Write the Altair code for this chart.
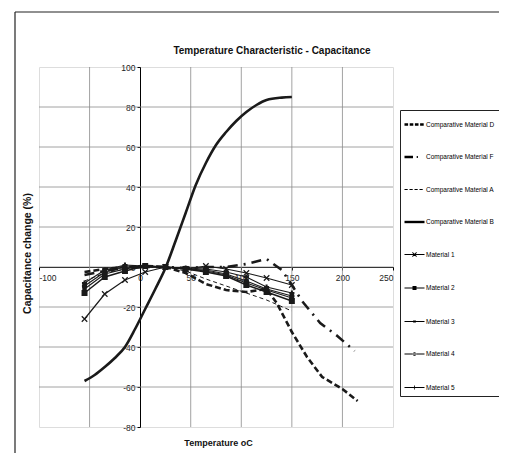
import altair as alt
import pandas as pd

# ---------------- data ----------------
T_MAT = [-55, -35, -15, 5, 25, 45, 65, 85, 105, 125, 150]
material_1 = [-26, -13.5, -6.5, -2.5, 0, -1, 0.5, -1, -3, -5.5, -9]
material_2 = [-13, -5, -2, 0.5, 0, -1, -2.5, -4.5, -9, -12.5, -17]
material_3 = [-11, -3.5, -1, 0.5, 0, -1, -2, -4, -8, -11.5, -15.5]
material_4 = [-9.5, -2.5, 0, 0.5, 0, -1, -1.5, -3.5, -7, -11, -14.5]
material_5 = [-8, -1.5, 1, 0.5, 0, -0.5, -1, -2.5, -5, -10, -13]

T_COMP_A = [-55, -35, -15, 5, 25, 45, 65, 85, 105, 125, 150]
comp_a = [-7, -3, -1, 0, 0, -2, -6, -9.5, -13, -16.5, -22]

T_COMP_B = [-55, -45, -35, -25, -15, -5, 5, 15, 25, 35, 45, 55, 65, 75, 85, 95, 105, 115, 125, 140, 150]
comp_b = [-57, -54, -50, -45.5, -40, -31, -21, -11, -0.5, 13, 27, 41, 52, 61, 67.5, 73, 77.5, 81, 83.5, 84.7, 85]

T_COMP_D = [-55, -35, -15, 5, 25, 45, 65, 85, 105, 125, 135, 150, 165, 180, 200, 215]
comp_d = [-2.5, -1, 0, 0.5, 0, -3, -8.5, -11.5, -12.5, -11, -18, -32.5, -45, -55, -61, -67]

T_COMP_F = [-55, -35, -15, 5, 25, 45, 65, 85, 105, 125, 140, 150, 160, 178, 195, 212]
comp_f = [-4, -2, -0.5, 0, 0, -0.5, 0, 0, 1.5, 4, -1.5, -9, -17, -28, -34.5, -42]

SERIES = ["Comparative Material D", "Comparative Material F", "Comparative Material A",
          "Comparative Material B", "Material 1", "Material 2", "Material 3",
          "Material 4", "Material 5"]

TITLE = "Temperature Characteristic - Capacitance"
X_LABELLED = [-100, 0, 50, 100, 150, 200, 250]
Y_TICKS = [-80, -60, -40, -20, 0, 20, 40, 60, 80, 100]
H_GRID = [-60, -40, -20, 0, 20, 40, 60, 80]
V_GRID = [-50, 50, 100, 150, 200]

# ---------------- tidy table ----------------
series_data = {
    "Comparative Material D": (T_COMP_D, comp_d),
    "Comparative Material F": (T_COMP_F, comp_f),
    "Comparative Material A": (T_COMP_A, comp_a),
    "Comparative Material B": (T_COMP_B, comp_b),
    "Material 1": (T_MAT, material_1),
    "Material 2": (T_MAT, material_2),
    "Material 3": (T_MAT, material_3),
    "Material 4": (T_MAT, material_4),
    "Material 5": (T_MAT, material_5),
}
rows = []
for name, (xs_, ys_) in series_data.items():
    for xv, yv in zip(xs_, ys_):
        rows.append({"series": name, "temp": xv, "cap": yv})
df = pd.DataFrame(rows)

FONT = "Liberation Sans, Arial, sans-serif"

W, H = 354, 360
xs = alt.Scale(domain=[-100, 250], nice=False, zero=False)
ys = alt.Scale(domain=[-80, 100], nice=False, zero=False)

x_axis = alt.Axis(values=X_LABELLED, orient="bottom", offset=-160, grid=False,
                  domainColor="black", domainWidth=1, tickColor="black", tickSize=3,
                  labelFont=FONT, labelFontSize=8.5, labelColor="#222", labelPadding=3,
                  labelOverlap=False, labelExpr="'' + datum.value",
                  title="Temperature oC", titleFont=FONT, titleFontSize=9,
                  titleFontWeight="bold", titleColor="#111", titleX=179, titleY=175,
                  titleBaseline="middle", titleAlign="center")
y_axis = alt.Axis(values=Y_TICKS, orient="left", offset=-101, grid=False,
                  domainColor="black", domainWidth=1, tickColor="black", tickSize=3,
                  labelFont=FONT, labelFontSize=8.5, labelColor="#222", labelPadding=2,
                  labelOverlap=False, labelExpr="'' + datum.value",
                  title="Capacitance change (%)", titleFont=FONT, titleFontSize=10.5,
                  titleFontWeight="bold", titleColor="#111", titleX=-113, titleY=186,
                  titleBaseline="middle", titleAlign="center", titleAngle=-90)

X_ENC = lambda f: alt.X(f, scale=xs, axis=x_axis)
Y_ENC = lambda f: alt.Y(f, scale=ys, axis=y_axis)

hgrid = alt.Chart(pd.DataFrame({"temp": [0] * len(H_GRID), "cap": H_GRID})).mark_rule(
    color="#8a8a8a", strokeWidth=0.8).encode(y=Y_ENC("cap:Q"))
vgrid = alt.Chart(pd.DataFrame({"temp": V_GRID, "cap": [0] * len(V_GRID)})).mark_rule(
    color="#8a8a8a", strokeWidth=0.8).encode(x=X_ENC("temp:Q"))

styles = {
    "Comparative Material D": dict(strokeWidth=2.6, strokeDash=[6, 3]),
    "Comparative Material F": dict(strokeWidth=2.6, strokeDash=[10, 6, 2, 6]),
    "Comparative Material A": dict(strokeWidth=1, strokeDash=[4, 3]),
    "Comparative Material B": dict(strokeWidth=2.6, interpolate="monotone"),
    "Material 1": dict(strokeWidth=1.2),
    "Material 2": dict(strokeWidth=1.4),
    "Material 3": dict(strokeWidth=1.2),
    "Material 4": dict(strokeWidth=1.2),
    "Material 5": dict(strokeWidth=1.2),
}
markers = {
    "Material 1": dict(shape="M-1,-1L1,1M-1,1L1,-1", size=30, filled=False, strokeWidth=1.2),
    "Material 2": dict(shape="square", size=36, filled=True),
    "Material 3": dict(shape="square", size=20, filled=True),
    "Material 4": dict(shape="circle", size=28, filled=True),
    "Material 5": dict(shape="cross", size=26, filled=True),
}

layers = [hgrid, vgrid]
base = alt.Chart(df)
for name in SERIES:
    layers.append(
        base.transform_filter(alt.datum.series == name)
        .mark_line(color="#1a1a1a", **styles[name])
        .encode(x=X_ENC("temp:Q"), y=Y_ENC("cap:Q"))
    )
for name, m in markers.items():
    layers.append(
        base.transform_filter(alt.datum.series == name)
        .mark_point(color="#1a1a1a", opacity=1, **m)
        .encode(x=X_ENC("temp:Q"), y=Y_ENC("cap:Q"))
    )

# legend symbols: line sample + marker, drawn as filled path shapes
THIN = "M-1,-0.05H1V0.05H-1Z"
LEG_PATHS = [
    "M-1,-0.12H-0.64V0.12H-1ZM-0.48,-0.12H-0.12V0.12H-0.48ZM0.04,-0.12H0.4V0.12H0.04ZM0.56,-0.12H0.92V0.12H0.56Z",
    "M-1,-0.12H-0.15V0.12H-1ZM0.22,-0.1H0.34V0.1H0.22Z",
    "M-1,-0.05H-0.68V0.05H-1ZM-0.5,-0.05H-0.18V0.05H-0.5ZM0,-0.05H0.32V0.05H0ZM0.5,-0.05H0.82V0.05H0.5Z",
    "M-1,-0.12H1V0.12H-1Z",
    THIN + "M-0.24,-0.18L0.18,0.24L0.24,0.18L-0.18,-0.24ZM-0.24,0.18L-0.18,0.24L0.24,-0.18L0.18,-0.24Z",
    THIN + "M-0.2,-0.2H0.2V0.2H-0.2Z",
    THIN + "M-0.14,-0.1H0.14V0.1H-0.14Z",
    THIN + "M-0.18,0A0.18,0.18 0 1,0 0.18,0A0.18,0.18 0 1,0 -0.18,0Z",
    THIN + "M-0.04,-0.2H0.04V0.2H-0.04ZM-0.13,0L0,-0.13L0.13,0L0,0.13Z",
]
legend_layer = alt.Chart(pd.DataFrame({"series": SERIES})).transform_filter("false").mark_point(
    filled=True, fill="black", stroke="black", strokeWidth=1, opacity=1
).encode(
    shape=alt.Shape("series:N", scale=alt.Scale(domain=SERIES, range=LEG_PATHS),
                    legend=alt.Legend(title=None, orient="none", legendX=361, legendY=43,
                                      padding=4, rowPadding=18.5, symbolSize=400,
                                      labelFont=FONT, labelFontSize=6.5, labelColor="#000",
                                      labelOffset=1, labelLimit=300, strokeColor="#222",
                                      fillColor="white", symbolStrokeWidth=1,
                                      symbolFillColor="black", symbolStrokeColor="black",
                                      symbolOpacity=1))
)
layers.append(legend_layer)

aux = alt.Chart(pd.DataFrame({"a": [0]}))
frame_top = aux.mark_rule(color="#222", strokeWidth=1.2).encode(
    x=alt.value(-24), x2=alt.value(470), y=alt.value(-55))
frame_left = aux.mark_rule(color="#222", strokeWidth=1.2).encode(
    x=alt.value(-24), y=alt.value(-55), y2=alt.value(400))
title_text = aux.mark_text(text=TITLE, font=FONT, fontSize=10, fontWeight="bold",
                           color="#111", align="center", baseline="alphabetic").encode(
    x=alt.value(233), y=alt.value(-13))
layers += [frame_top, frame_left, title_text]

chart = alt.layer(*layers).properties(
    width=W, height=H,
    autosize="none",
    padding={"left": 31, "top": 59, "right": 106, "bottom": 26},
).configure_view(stroke=None).configure_axis(labelOverlap=False).configure(background="white")

chart.save("out.html", embed_options={"renderer": "svg", "actions": False})
